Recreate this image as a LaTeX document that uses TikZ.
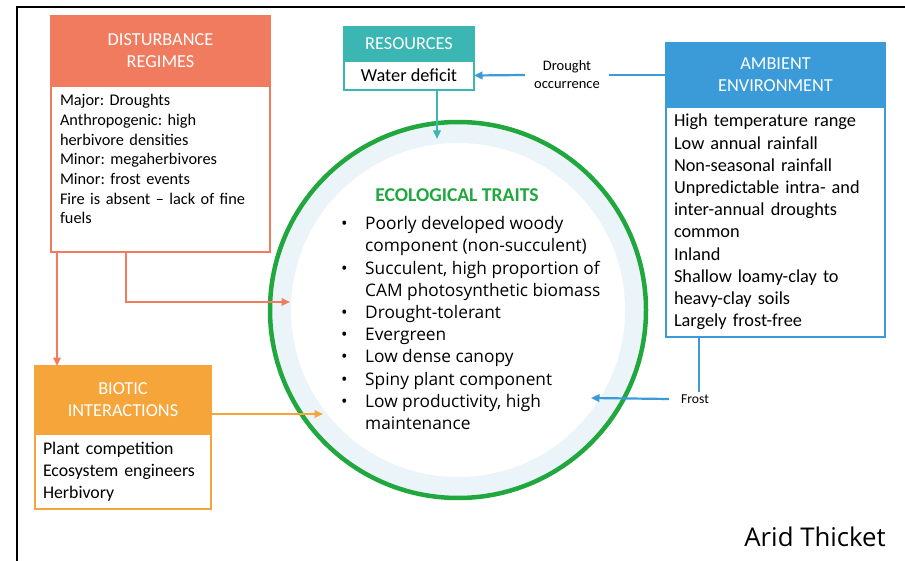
\documentclass[tikz,border=0pt]{standalone}
\usepackage{fontspec}
\setmainfont{Carlito}
\newfontfamily\aptfont{Open Sans}
\usetikzlibrary{positioning,arrows.meta}
\frenchspacing

\definecolor{distcol}{RGB}{240,123,94}
\definecolor{rescol}{RGB}{59,182,178}
\definecolor{ambcol}{RGB}{58,155,216}
\definecolor{biocol}{RGB}{245,165,58}
\definecolor{traitcol}{RGB}{32,168,62}
\definecolor{ringcol}{RGB}{235,245,249}

\tikzset{
  head/.style={fill=#1, draw=#1, line width=1.5pt, text=white, align=center,
    inner sep=0pt, outer sep=0pt, anchor=north west,
    font=\fontsize{18.3}{22}\selectfont},
  body/.style={draw=#1, fill=white, line width=1.5pt, align=left,
    inner xsep=8pt, inner ysep=0pt, outer sep=0pt, anchor=north},
  link/.style={draw=#1, line width=2.2pt, -{Triangle[length=8.5pt,width=7.5pt]}},
}

\begin{document}
\begin{tikzpicture}[x=1pt,y=-1pt]
\useasboundingbox (0,0) rectangle (905,561);
\draw[line width=2pt] (17,561) -- (17,7) -- (905,7);

% traits circle
\node[circle, draw=traitcol, fill=ringcol, line width=4.5pt, minimum size=376pt, inner sep=0pt] (ring) at (458,310) {};
\node[circle, fill=white, minimum size=334pt, inner sep=0pt] (core) at (ring.center) {};
\node[text=traitcol, font=\fontsize{19.6}{22}\selectfont\bfseries] (traitshead) at (457,195) {ECOLOGICAL TRAITS};
\node[anchor=north west, inner sep=0pt, font=\aptfont\fontsize{17.3}{22.2}\selectfont] (traits) at (341,214) {%
  \begin{tabular}{@{}p{24pt}@{}l@{}}
  \textbullet & Poorly developed woody\\
              & component (non-succulent)\\
  \textbullet & Succulent, high proportion of\\
              & CAM photosynthetic biomass\\
  \textbullet & Drought-tolerant\\
  \textbullet & Evergreen\\
  \textbullet & Low dense canopy\\
  \textbullet & Spiny plant component\\
  \textbullet & Low productivity, high\\
              & maintenance
  \end{tabular}};

% boxes
\node[head=distcol, minimum width=219pt, minimum height=70pt] (disthead) at (51,16) {DISTURBANCE\\REGIMES};
\node[body=distcol, inner xsep=9pt, text width=201pt, minimum height=166pt,
  font=\fontsize{16.3}{19.7}\selectfont, below=0pt of disthead] (distbody)
  {Major: Droughts\\Anthropogenic: high\\herbivore densities\\Minor: megaherbivores\\Minor: frost events\\Fire is absent -- lack of fine\\fuels\\ \mbox{}};

\node[head=rescol, minimum width=130pt, minimum height=34pt] (reshead) at (344,27) {RESOURCES};
\node[body=rescol, align=center, minimum width=130pt, minimum height=29pt,
  font=\fontsize{18.3}{22}\selectfont, below=0pt of reshead] (resbody) {Water deficit};

\node[head=ambcol, minimum width=219pt, minimum height=64pt] (ambhead) at (666,43) {AMBIENT\\ENVIRONMENT};
\node[body=ambcol, text width=203pt, minimum height=230pt,
  font=\fontsize{18.3}{22.2}\selectfont, below=0pt of ambhead] (ambbody)
  {High temperature range\\Low annual rainfall\\Non-seasonal rainfall\\Unpredictable intra- and\\inter-annual droughts\\common\\Inland\\Shallow loamy-clay to\\heavy-clay soils\\Largely frost-free};

\node[head=biocol, minimum width=176pt, minimum height=68pt] (biohead) at (35,366) {BIOTIC\\INTERACTIONS};
\node[body=biocol, text width=160pt, minimum height=75pt,
  font=\fontsize{17.8}{22}\selectfont, below=0pt of biohead] (biobody)
  {Plant competition\\Ecosystem engineers\\Herbivory};

% side labels
\node[align=center, inner xsep=9pt, font=\fontsize{14.5}{18}\selectfont] (drought) at (567,75) {Drought\\occurrence};
\node[inner xsep=12pt, inner ysep=2pt, font=\fontsize{13.6}{16}\selectfont] (frost) at (695,399) {Frost};
\node[anchor=east, inner sep=0pt, font=\aptfont\fontsize{25.8}{30}\selectfont] (title) at (886,537) {Arid Thicket};

% arrow ends inside the ring
\coordinate (distin) at (290,302);
\coordinate (bioin) at (323,414);
\coordinate (resin) at (437,139);
\coordinate (frostin) at (591,398);

\draw[link=distcol] ([xshift=6pt]distbody.south west) -- ([xshift=6pt]distbody.south west |- biohead.north);
\draw[link=distcol] ([xshift=75pt]distbody.south west) |- (distin);
\draw[link=biocol] ([yshift=-14pt]biohead.east) -- (bioin);
\draw[link=rescol] ([xshift=28pt]resbody.south) -- (resin);
\draw[draw=ambcol, line width=2.2pt] (ambhead.west |- drought.east) -- (drought.east);
\draw[link=ambcol] (drought.west) -- (resbody.east);
\draw[draw=ambcol, line width=2.2pt] ([xshift=33pt]ambbody.south west) -- ([xshift=33pt]ambbody.south west |- frost.north);
\draw[link=ambcol] (frost.west) -- (frostin);
\end{tikzpicture}
\end{document}
